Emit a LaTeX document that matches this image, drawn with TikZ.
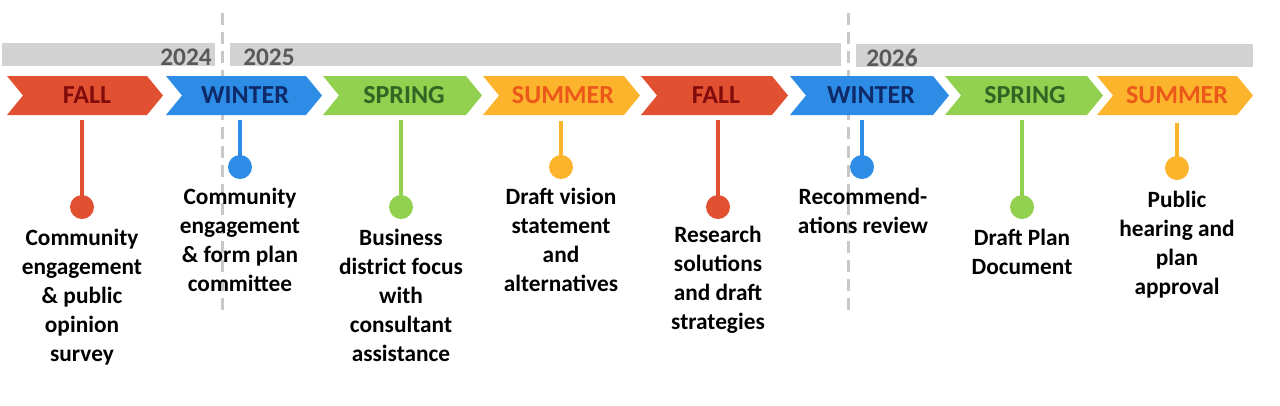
\documentclass[tikz,border=0pt]{standalone}
\usepackage{fontspec}
\setmainfont{Carlito}
\definecolor{fallC}{RGB}{226,80,50}
\definecolor{fallT}{RGB}{130,12,12}
\definecolor{winC}{RGB}{44,140,230}
\definecolor{winT}{RGB}{14,42,105}
\definecolor{sprC}{RGB}{146,208,80}
\definecolor{sprT}{RGB}{50,100,35}
\definecolor{sumC}{RGB}{252,180,45}
\definecolor{sumT}{RGB}{235,88,25}
\definecolor{barC}{RGB}{210,210,210}
\definecolor{dashC}{RGB}{200,200,200}
\definecolor{yearT}{RGB}{89,89,89}
\newcommand\mychev[3]{%
  \fill[#3] (#1,76) -- (#2-16,76) -- (#2,95.5) -- (#2-16,115) -- (#1,115) -- (#1+16,95.5) -- cycle;}
\begin{document}
\begin{tikzpicture}[x=0.75pt,y=-0.75pt,
  bar/.style={fill=barC},
  dashline/.style={draw=dashC,line width=2.25pt,dash pattern=on 9pt off 5.25pt},
  season/.style={font=\bfseries\fontsize{19.5}{22}\selectfont,inner sep=0pt,anchor=center},
  year/.style={font=\bfseries\fontsize{19}{22}\selectfont,text=yearT,inner sep=0pt},
  dot/.style={circle,fill=#1,minimum size=18pt,inner sep=0pt},
  stem/.style={draw=#1,line width=3pt},
  desc/.style={font=\bfseries\fontsize{17.5}{21.75}\selectfont,align=center,inner sep=0pt,anchor=base}]
\useasboundingbox (0,0) rectangle (1280,405);
% year bars
\fill[bar] (2,43) rectangle (215,66);
\fill[bar] (230,43) rectangle (841,66);
\fill[bar] (856,44) rectangle (1253,67);
\node[year,anchor=base east] (y24) at (212,65) {2024};
\node[year,anchor=base west] (y25) at (243,65) {2025};
\node[year,anchor=base west] (y26) at (866,66) {2026};
% dashed year separators
\coordinate (da) at (222,13); \coordinate (db) at (222,313);
\coordinate (dc) at (848,13); \coordinate (dd) at (848,313);
\draw[dashline] (da) -- (db);
\draw[dashline] (dc) -- (dd);
% chevrons
\mychev{7}{163}{fallC}
\mychev{166}{322}{winC}
\mychev{323}{482}{sprC}
\mychev{483}{640}{sumC}
\mychev{641}{788}{fallC}
\mychev{790}{949}{winC}
\mychev{945}{1103}{sprC}
\mychev{1097}{1253}{sumC}
\node[season,text=fallT] (c1) at (87,95.5) {FALL};
\node[season,text=winT] (c2) at (245,95.5) {WINTER};
\node[season,text=sprT] (c3) at (404,95.5) {SPRING};
\node[season,text=sumT] (c4) at (563,95.5) {SUMMER};
\node[season,text=fallT] (c5) at (716,95.5) {FALL};
\node[season,text=winT] (c6) at (871,95.5) {WINTER};
\node[season,text=sprT] (c7) at (1025,95.5) {SPRING};
\node[season,text=sumT] (c8) at (1177,95.5) {SUMMER};
% stems and dots
\coordinate (s1) at (82,120);  \node[dot=fallC] (d1) at (82,207) {};
\coordinate (s2) at (240,120); \node[dot=winC] (d2) at (240,167) {};
\coordinate (s3) at (401,120); \node[dot=sprC] (d3) at (401,207) {};
\coordinate (s4) at (561,121); \node[dot=sumC] (d4) at (561,167) {};
\coordinate (s5) at (718,120); \node[dot=fallC] (d5) at (718,207) {};
\coordinate (s6) at (862,120); \node[dot=winC] (d6) at (862,167) {};
\coordinate (s7) at (1022,120); \node[dot=sprC] (d7) at (1022,207) {};
\coordinate (s8) at (1177,123); \node[dot=sumC] (d8) at (1177,168) {};
\draw[stem=fallC] (s1) -- (d1.center);
\draw[stem=winC] (s2) -- (d2.center);
\draw[stem=sprC] (s3) -- (d3.center);
\draw[stem=sumC] (s4) -- (d4.center);
\draw[stem=fallC] (s5) -- (d5.center);
\draw[stem=winC] (s6) -- (d6.center);
\draw[stem=sprC] (s7) -- (d7.center);
\draw[stem=sumC] (s8) -- (d8.center);
% descriptions (anchor = baseline of the last line)
\node[desc] (t1) at (82,361) {Community\\engagement\\\& public\\opinion\\survey};
\node[desc] (t2) at (240,291) {Community\\engagement\\\& form plan\\committee};
\node[desc] (t3) at (401,361) {Business\\district focus\\with\\consultant\\assistance};
\node[desc] (t4) at (561,291) {Draft vision\\statement\\and\\alternatives};
\node[desc] (t5) at (718,329) {Research\\solutions\\and draft\\strategies};
\node[desc] (t6) at (863,233) {Recommend-\\ations review};
\node[desc] (t7) at (1022,274) {Draft Plan\\Document};
\node[desc] (t8) at (1177,294) {Public\\hearing and\\plan\\approval};
\end{tikzpicture}
\end{document}
